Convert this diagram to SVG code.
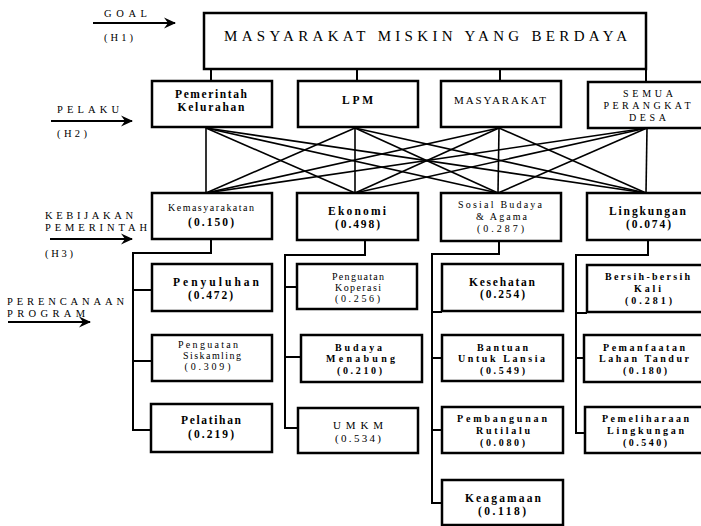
<svg xmlns="http://www.w3.org/2000/svg" width="701" height="526" viewBox="0 0 701 526">
<style>
text{font-family:"Liberation Serif","Times New Roman",serif;fill:#000;text-anchor:middle}
.b{font-weight:bold;font-size:11.5px}
.r{font-weight:normal;font-size:11px}
.s{font-size:10px}
.l{text-anchor:start;font-size:10.5px}
.box{fill:#fff;stroke:#000;stroke-width:2.5}
.ln{fill:none;stroke:#000;stroke-width:2}
.mesh{stroke:#000;stroke-width:1.6}
.arr{stroke:#000;stroke-width:2.2;fill:none}
</style>
<defs>
<marker id="ah" markerUnits="userSpaceOnUse" markerWidth="14" markerHeight="12" refX="11" refY="6" orient="auto">
<path d="M0,0.5 L12,6 L0,11.5 L4,6 Z" fill="#000"/>
</marker>
</defs>

<g id="labels">
<text class="l" x="104" y="17" textLength="43">GOAL</text>
<text class="l" x="104" y="41" textLength="29">(H1)</text>
<line class="arr" x1="93" y1="23" x2="175" y2="23" marker-end="url(#ah)"/>
<text class="l" x="57" y="113" textLength="62">PELAKU</text>
<text class="l" x="57" y="137" textLength="30">(H2)</text>
<line class="arr" x1="51" y1="121" x2="132" y2="121" marker-end="url(#ah)"/>
<text class="l" x="45" y="219" textLength="88">KEBIJAKAN</text>
<text class="l" x="45" y="231" textLength="102">PEMERINTAH</text>
<line class="arr" x1="50" y1="239" x2="132" y2="239" marker-end="url(#ah)"/>
<text class="l" x="45" y="257" textLength="28">(H3)</text>
<text class="l" x="7" y="305" textLength="117">PERENCANAAN</text>
<text class="l" x="7" y="317" textLength="78">PROGRAM</text>
<line class="arr" x1="8" y1="322" x2="90" y2="322" marker-end="url(#ah)"/>
</g>

<g id="connectors">
<line class="ln" x1="211" y1="69" x2="211" y2="81"/>
<line class="ln" x1="357" y1="69" x2="357" y2="81"/>
<line class="ln" x1="500" y1="69" x2="500" y2="81"/>
<line class="ln" x1="646" y1="69" x2="646" y2="81"/>
<g class="mesh">
<line x1="206" y1="128" x2="206" y2="193"/>
<line x1="206" y1="128" x2="355" y2="193"/>
<line x1="206" y1="128" x2="498" y2="193"/>
<line x1="206" y1="128" x2="646" y2="193"/>
<line x1="355" y1="128" x2="206" y2="193"/>
<line x1="355" y1="128" x2="355" y2="193"/>
<line x1="355" y1="128" x2="498" y2="193"/>
<line x1="355" y1="128" x2="646" y2="193"/>
<line x1="499" y1="128" x2="206" y2="193"/>
<line x1="499" y1="128" x2="355" y2="193"/>
<line x1="499" y1="128" x2="498" y2="193"/>
<line x1="499" y1="128" x2="646" y2="193"/>
<line x1="647" y1="128" x2="206" y2="193"/>
<line x1="647" y1="128" x2="355" y2="193"/>
<line x1="647" y1="128" x2="498" y2="193"/>
<line x1="647" y1="128" x2="646" y2="193"/>
</g>
<polyline class="ln" points="211,239 211,253 133,253 133,430 151,430"/>
<line class="ln" x1="133" y1="290" x2="152" y2="290"/>
<line class="ln" x1="133" y1="361" x2="152" y2="361"/>
<polyline class="ln" points="365,240 365,255 285,255 285,428 298,428"/>
<line class="ln" x1="285" y1="287" x2="297" y2="287"/>
<line class="ln" x1="285" y1="357" x2="301" y2="357"/>
<polyline class="ln" points="499,241 499,254 432,254 432,503 442,503"/>
<line class="ln" x1="432" y1="312" x2="442" y2="312"/>
<line class="ln" x1="432" y1="358" x2="442" y2="358"/>
<line class="ln" x1="432" y1="430" x2="442" y2="430"/>
<polyline class="ln" points="648,240 648,255 576,255 576,433 585,433"/>
<line class="ln" x1="576" y1="313" x2="587" y2="313"/>
<line class="ln" x1="576" y1="358" x2="584" y2="358"/>
</g>

<g id="goal">
<rect class="box" x="204" y="13" width="442" height="56"/>
<text x="425.5" y="41" font-size="15" textLength="403">MASYARAKAT MISKIN YANG BERDAYA</text>
</g>

<g id="pemerintah-kelurahan">
<rect class="box" x="152" y="81" width="120" height="46"/>
<text class="b" x="211" y="98" textLength="72">Pemerintah</text>
<text class="b" x="211" y="111" textLength="67">Kelurahan</text>
</g>
<g id="lpm">
<rect class="box" x="298" y="81" width="120" height="46"/>
<text class="b" x="357.5" y="104" textLength="31">LPM</text>
</g>
<g id="masyarakat">
<rect class="box" x="441" y="81" width="120" height="46"/>
<text class="r" x="500" y="104" textLength="92">MASYARAKAT</text>
</g>
<g id="semua-perangkat-desa">
<rect class="box" x="588" y="82" width="115" height="46"/>
<text class="r s" x="648" y="97" textLength="50">SEMUA</text>
<text class="r s" x="647" y="109" textLength="87">PERANGKAT</text>
<text class="r s" x="647.5" y="121" textLength="37">DESA</text>
</g>

<g id="kemasyarakatan">
<rect class="box" x="152" y="193" width="120" height="46"/>
<text class="r s" x="211" y="211" textLength="86">Kemasyarakatan</text>
<text class="b" x="211" y="226" textLength="46">(0.150)</text>
</g>
<g id="ekonomi">
<rect class="box" x="297" y="193" width="121" height="47"/>
<text class="b" x="357" y="215" textLength="58">Ekonomi</text>
<text class="b" x="357.5" y="228" textLength="45">(0.498)</text>
</g>
<g id="sosial-budaya-agama">
<rect class="box" x="441" y="193" width="120" height="48"/>
<text class="r s" x="500" y="208" textLength="84">Sosial Budaya</text>
<text class="r s" x="501.5" y="220" textLength="51">&amp; Agama</text>
<text class="r s" x="500.5" y="232" textLength="47">(0.287)</text>
</g>
<g id="lingkungan">
<rect class="box" x="587" y="193" width="116" height="47"/>
<text class="b" x="647.5" y="215" textLength="77">Lingkungan</text>
<text class="b" x="648.5" y="228" textLength="45">(0.074)</text>
</g>

<g id="penyuluhan">
<rect class="box" x="152" y="264" width="120" height="47"/>
<text class="b" x="216" y="286" textLength="86">Penyuluhan</text>
<text class="b" x="210.5" y="299" textLength="45">(0.472)</text>
</g>
<g id="penguatan-siskamling">
<rect class="box" x="152" y="335" width="120" height="46"/>
<text class="r s" x="208" y="348" textLength="60">Penguatan</text>
<text class="r s" x="212" y="359" textLength="58">Siskamling</text>
<text class="r s" x="207.5" y="370" textLength="46">(0.309)</text>
</g>
<g id="pelatihan">
<rect class="box" x="151" y="404" width="121" height="48"/>
<text class="b" x="211" y="424" textLength="60">Pelatihan</text>
<text class="b" x="211" y="438" textLength="46">(0.219)</text>
</g>

<g id="penguatan-koperasi">
<rect class="box" x="297" y="264" width="120" height="45"/>
<text class="r s" x="358" y="280" textLength="52">Penguatan</text>
<text class="r s" x="358" y="291" textLength="46">Koperasi</text>
<text class="r s" x="357.5" y="302" textLength="45">(0.256)</text>
</g>
<g id="budaya-menabung">
<rect class="box" x="301" y="335" width="121" height="47"/>
<text class="b s" x="358.5" y="351" textLength="47">Budaya</text>
<text class="b s" x="360.5" y="362" textLength="69">Menabung</text>
<text class="b s" x="359.5" y="374" textLength="45">(0.210)</text>
</g>
<g id="umkm">
<rect class="box" x="298" y="408" width="120" height="45"/>
<text class="r" x="358" y="429" textLength="50">UMKM</text>
<text class="r" x="358" y="442" textLength="46">(0.534)</text>
</g>

<g id="kesehatan">
<rect class="box" x="442" y="264" width="121" height="47"/>
<text class="b" x="502" y="286" textLength="66">Kesehatan</text>
<text class="b" x="502.5" y="298" textLength="45">(0.254)</text>
</g>
<g id="bantuan-untuk-lansia">
<rect class="box" x="442" y="335" width="121" height="46"/>
<text class="b s" x="502.5" y="351" textLength="51">Bantuan</text>
<text class="b s" x="501.5" y="362" textLength="87">Untuk Lansia</text>
<text class="b s" x="502.5" y="374" textLength="45">(0.549)</text>
</g>
<g id="pembangunan-rutilalu">
<rect class="box" x="442" y="407" width="121" height="46"/>
<text class="b s" x="502" y="422" textLength="90">Pembangunan</text>
<text class="b s" x="503" y="434" textLength="54">Rutilalu</text>
<text class="b s" x="502.5" y="446" textLength="45">(0.080)</text>
</g>
<g id="keagamaan">
<rect class="box" x="442" y="480" width="121" height="45"/>
<text class="b" x="503" y="502" textLength="76">Keagamaan</text>
<text class="b" x="502" y="515" textLength="48">(0.118)</text>
</g>

<g id="bersih-bersih-kali">
<rect class="box" x="587" y="265" width="116" height="47"/>
<text class="b s" x="647.5" y="280" textLength="85">Bersih-bersih</text>
<text class="b s" x="647.5" y="292" textLength="27">Kali</text>
<text class="b s" x="648.5" y="304" textLength="47">(0.281)</text>
</g>
<g id="pemanfaatan-lahan-tandur">
<rect class="box" x="584" y="335" width="119" height="47"/>
<text class="b s" x="644" y="351" textLength="82">Pemanfaatan</text>
<text class="b s" x="644" y="362" textLength="90">Lahan Tandur</text>
<text class="b s" x="645" y="374" textLength="44">(0.180)</text>
</g>
<g id="pemeliharaan-lingkungan">
<rect class="box" x="585" y="407" width="118" height="46"/>
<text class="b s" x="645.5" y="422" textLength="87">Pemeliharaan</text>
<text class="b s" x="645.5" y="434" textLength="77">Lingkungan</text>
<text class="b s" x="645" y="446" textLength="44">(0.540)</text>
</g>
</svg>
